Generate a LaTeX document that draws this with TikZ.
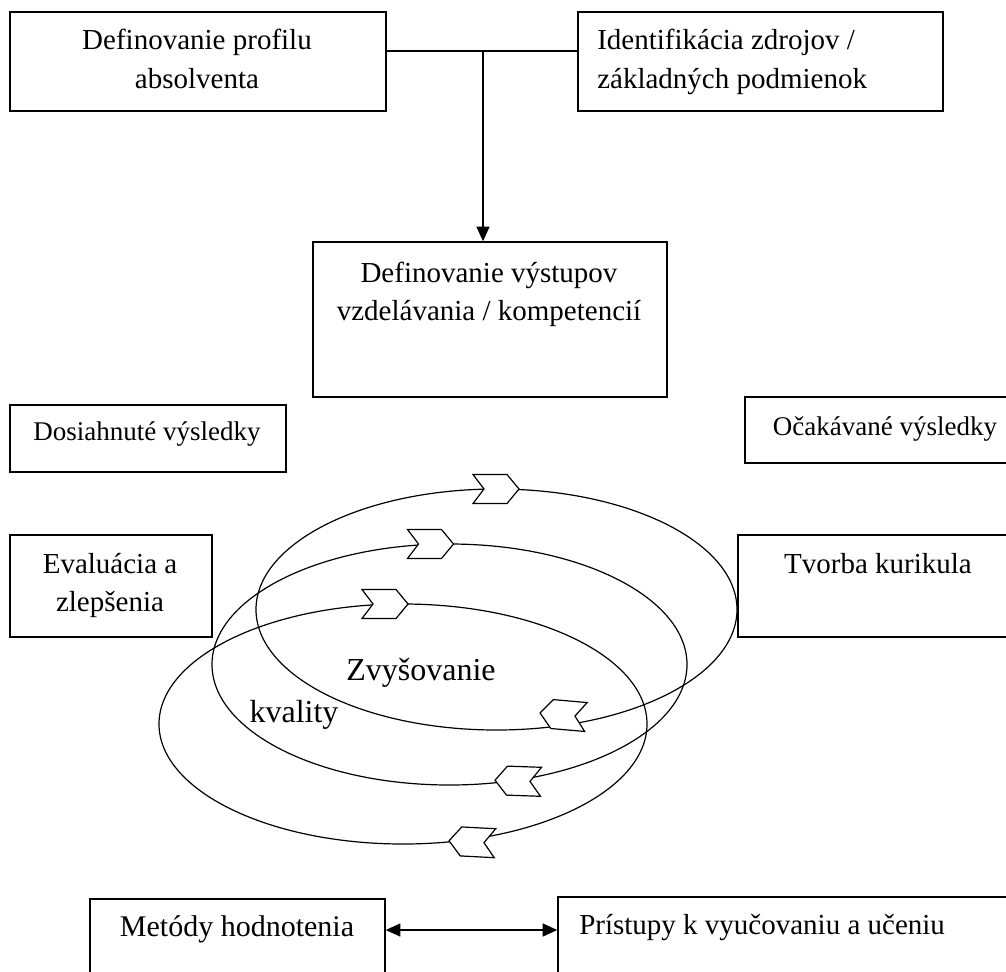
\documentclass[tikz,border=0pt]{standalone}
\usepackage{fontspec}
\setmainfont{Liberation Serif}
\usetikzlibrary{arrows.meta,fit}
\newcommand\fsA{\fontsize{21.75}{26}\selectfont}
\newcommand\fsB{\fontsize{20.25}{24}\selectfont}
\newcommand\fsC{\fontsize{24}{29}\selectfont}
\newcommand\fsD{\fontsize{22.5}{27}\selectfont}
\begin{document}
\begin{tikzpicture}[x=0.75pt,y=-0.75pt,
  >={Triangle[width=9.75pt,length=11pt]},
  box/.style={draw,line width=1.1pt,inner sep=0pt},
  lbl/.style={inner sep=0pt,anchor=base,font=\fsA},
  loop/.style={draw,line width=0.9pt},
  link/.style={line width=1.1pt},
  chev/.pic={\draw[line width=0.9pt,fill=white,line join=miter]
     (-23,-14.5) -- (11,-14.5) -- (23,0) -- (11,14.5) -- (-23,14.5) -- (-12,0) -- cycle;}]
\useasboundingbox (0,0) rectangle (1006,971);
\clip (0,0) rectangle (1006,971);

% boxes
\node[box, fit={(10,12) (386,111)}] (b1) {};
\node[box, fit={(578,12) (943,111)}] (b2) {};
\node[box, fit={(313,242) (667,397)}] (b3) {};
\node[box, fit={(10,405) (286,472)}] (dos) {};
\node[box, fit={(745,397) (1030,463)}] (oca) {};
\node[box, fit={(10,535) (212,637)}] (eva) {};
\node[box, fit={(738,535) (1030,637)}] (tvo) {};
\node[box, fit={(90,899) (385,1000)}] (met) {};
\node[box, fit={(558,897) (1030,1000)}] (pri) {};

% texts
\node[lbl] (b1a) at (197,49) {Definovanie profilu};
\node[lbl] (b1b) at (197,88) {absolventa};
\node[lbl,anchor=base west] (b2a) at (597,49) {Identifikácia zdrojov /};
\node[lbl,anchor=base west] (b2b) at (597,88) {základných podmienok};
\node[lbl] (b3a) at (489,282) {Definovanie výstupov};
\node[lbl] (b3b) at (489,320) {vzdelávania / kompetencií};
\node[lbl,font=\fsB] (dost) at (147,440) {Dosiahnuté výsledky};
\node[lbl,font=\fsB] (ocat) at (885,435) {Očakávané výsledky};
\node[lbl] (evaa) at (110,573) {Evaluácia a};
\node[lbl] (evab) at (110,611) {zlepšenia};
\node[lbl] (tvot) at (878,573) {Tvorba kurikula};
\node[lbl,font=\fsD] (mett) at (237,936) {Metódy hodnotenia};
\node[lbl,anchor=base west] (prit) at (579,934) {Prístupy k vyučovaniu a učeniu};

% connectors
\coordinate (j) at (483,51);
\coordinate (ay) at (0,930);
\draw[link] (b1.east |- j) -- (b2.west |- j);
\draw[link,->] (j) -- (j |- b3.north);
\draw[link,<->] (met.east |- ay) -- (pri.west |- ay);

% loops
\draw[loop] (496.5,609.5) ellipse [x radius=240.5, y radius=120.5];
\draw[loop] (449.5,664.5) ellipse [x radius=237.5, y radius=120.5];
\draw[loop] (403,724) ellipse [x radius=244, y radius=120];

\pic at (496,489) {chev};
\pic at (430.5,544) {chev};
\pic at (385,604) {chev};
\pic[rotate=175] at (563,715) {chev};
\pic[rotate=178] at (518,781) {chev};
\pic[rotate=177] at (472,842) {chev};

\node[lbl,font=\fsC] (zvy) at (421,680) {Zvyšovanie};
\node[lbl,font=\fsC] (kva) at (294,722) {kvality};
\end{tikzpicture}
\end{document}
